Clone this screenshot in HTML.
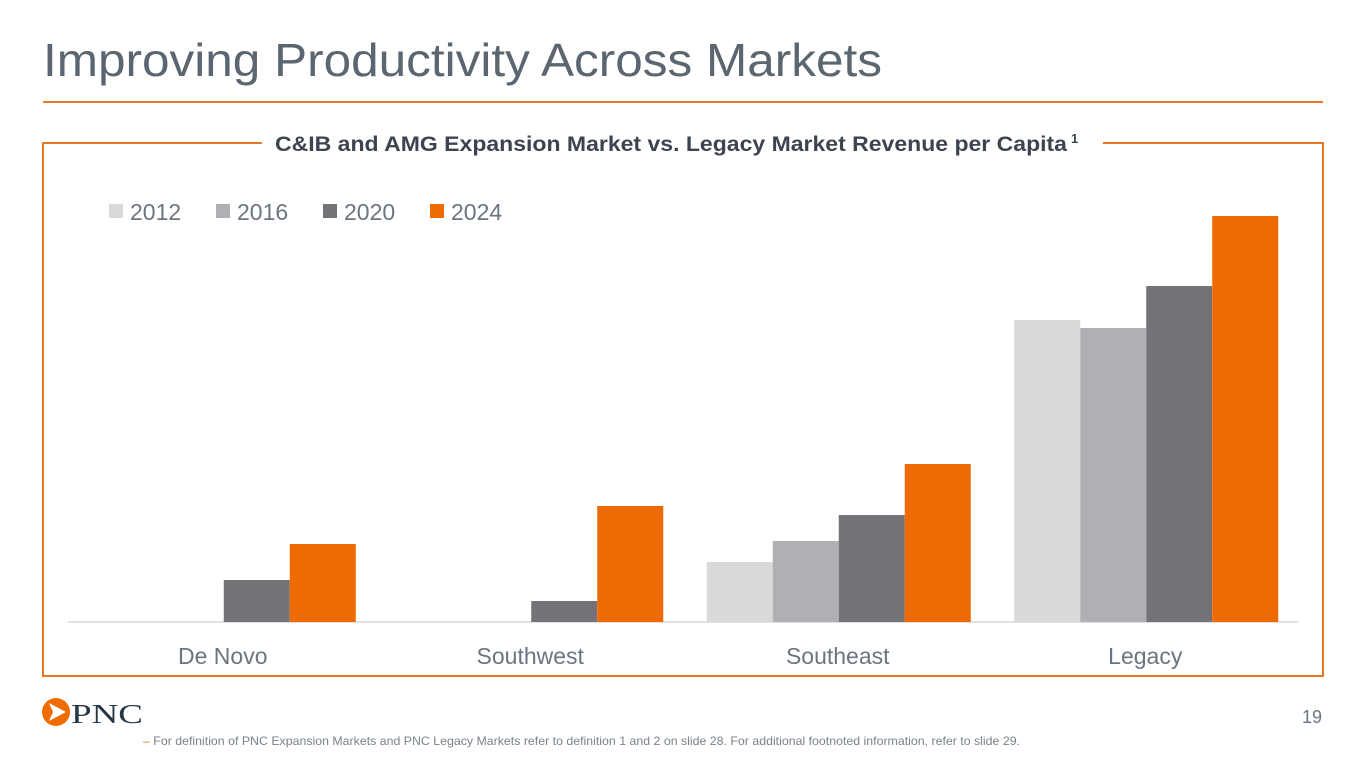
<!DOCTYPE html>
<html><head><meta charset="utf-8"><style>
html,body{margin:0;padding:0;background:#fff;}
svg{display:block;font-family:"Liberation Sans Narrow","Liberation Sans",sans-serif;}
</style></head><body>
<svg id="c" width="1365" height="768" viewBox="0 0 1365 768">
<text x="43" y="76" font-size="46" fill="#5b6670" textLength="839" lengthAdjust="spacingAndGlyphs">Improving Productivity Across Markets</text>
<line x1="43" y1="102" x2="1323" y2="102" stroke="#e87722" stroke-width="2"/>
<path d="M262 143 H43 V676 H1323 V143 H1103" fill="none" stroke="#e87722" stroke-width="2"/>
<text x="275" y="151" font-size="21" font-weight="bold" fill="#3d4450" textLength="792" lengthAdjust="spacingAndGlyphs" font-family="Liberation Sans, sans-serif">C&amp;IB and AMG Expansion Market vs. Legacy Market Revenue per Capita</text>
<text x="1071" y="143" font-size="13" font-weight="bold" fill="#3d4450" font-family="Liberation Sans, sans-serif">1</text>
<g id="legend"></g>
<line x1="68" y1="622" x2="1298" y2="622" stroke="#d9d9d9" stroke-width="1.5"/>
<g id="bars"></g>
<g id="xlabels"></g>
<g>
<circle cx="56" cy="712" r="14" fill="#ef6c00"/>
<path d="M49 703 L66 712 L49 721 L53 712 Z" fill="#fff"/>
<text x="71" y="723" font-size="27" fill="#253746" font-family="Liberation Serif, serif" textLength="72" lengthAdjust="spacingAndGlyphs">PNC</text>
</g>
<text x="1322" y="723" font-size="18" fill="#6b7580" text-anchor="end">19</text>
<text x="143" y="745" font-size="12" fill="#7a828a" textLength="877" lengthAdjust="spacingAndGlyphs"><tspan fill="#e87722">–</tspan>  For definition of PNC Expansion Markets and PNC Legacy Markets refer to definition 1 and 2 on slide 28. For additional footnoted information, refer to slide 29.</text>
</svg>
<script>
const categories = ["De Novo","Southwest","Southeast","Legacy"];
const seriesNames = ["2012","2016","2020","2024"];
const v2012 = [0,0,60,302];
const v2016 = [0,0,81,294];
const v2020 = [42,21,107,336];
const v2024 = [78,116,158,406];
const colors = ["#d9d9d9","#b0afb3","#737277","#ef6a00"];
const series=[v2012,v2016,v2020,v2024];
const NS="http://www.w3.org/2000/svg";
const x0=70,x1=1300,baseY=622,maxV=420,plotH=420;
const band=(x1-x0)/categories.length, bw=66;
function yS(v){return baseY - v/maxV*plotH;}
function xS(ci,si){return x0+band*ci+band/2-2*bw+si*bw;}
const bars=document.getElementById('bars');
series.forEach((s,si)=>s.forEach((v,ci)=>{
 const r=document.createElementNS(NS,'rect');
 r.setAttribute('x',xS(ci,si));r.setAttribute('y',yS(v));
 r.setAttribute('width',bw);r.setAttribute('height',baseY-yS(v));
 r.setAttribute('fill',colors[si]);
 
 
 bars.appendChild(r);
}));
const xl=document.getElementById('xlabels');
categories.forEach((c,ci)=>{
 const t=document.createElementNS(NS,'text');
 t.setAttribute('x',x0+band*ci+band/2-1);t.setAttribute('y',664);
 t.setAttribute('text-anchor','middle');t.setAttribute('font-size','23');t.setAttribute('fill','#6b7580');
 t.textContent=c;
 
 
 xl.appendChild(t);
});
const lg=document.getElementById('legend');
seriesNames.forEach((n,i)=>{
 const lx=109+i*107;
 const r=document.createElementNS(NS,'rect');
 r.setAttribute('x',lx);r.setAttribute('y',204);r.setAttribute('width',14);r.setAttribute('height',14);r.setAttribute('fill',colors[i]);
 
 
 lg.appendChild(r);
 const t=document.createElementNS(NS,'text');
 t.setAttribute('x',lx+21);t.setAttribute('y',220);t.setAttribute('font-size','23');t.setAttribute('fill','#6b7580');
 t.textContent=n;
 
 
 lg.appendChild(t);
});
</script>
</body></html>
